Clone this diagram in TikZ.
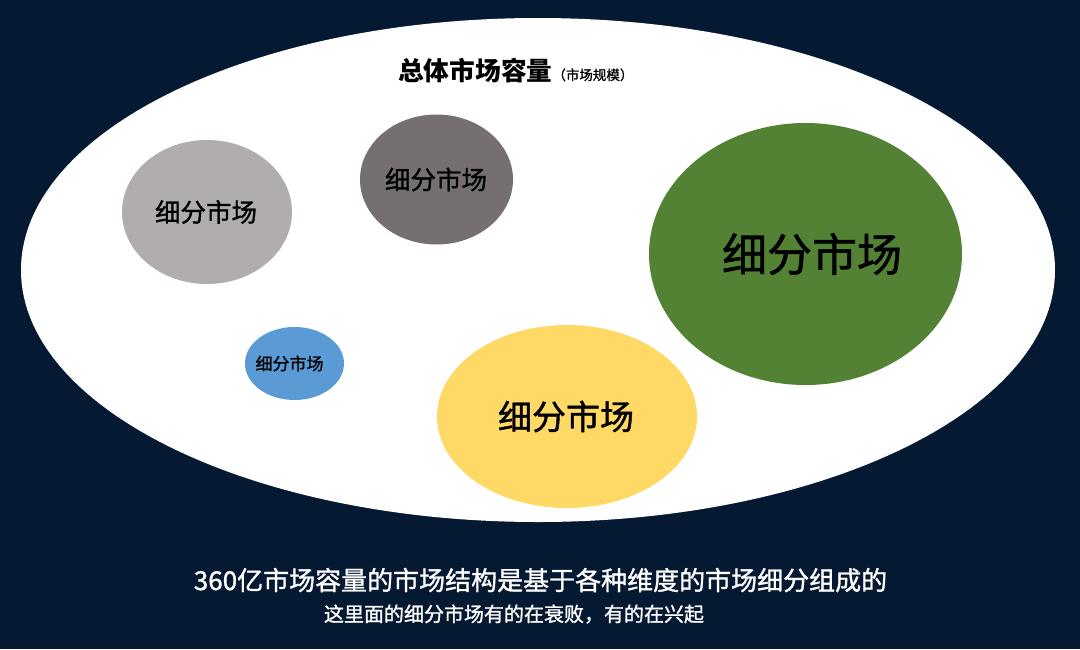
\documentclass[tikz,border=0pt]{standalone}
\usepackage{fontspec}
\setmainfont{Noto Sans CJK SC}
\newfontfamily\medfont[FakeBold=1.2]{Noto Sans CJK SC}
\usetikzlibrary{shapes.geometric}
\definecolor{navy}{HTML}{061933}
\definecolor{lgray}{HTML}{B0ADAC}
\definecolor{dgray}{HTML}{75706F}
\definecolor{mgreen}{HTML}{548235}
\definecolor{mblue}{HTML}{5B9BD5}
\definecolor{myellow}{HTML}{FFD966}
\tikzset{
  segment/.style={ellipse, inner sep=0pt, text=black},
  caption/.style={text=white, inner sep=0pt}
}
\newcommand\fsz[1]{\fontsize{#1}{#1}\selectfont}

\begin{document}
\begin{tikzpicture}[x=1pt, y=-1pt]
\fill[navy] (0,0) rectangle (1080,649);
\useasboundingbox (0,0) rectangle (1080,649);
\node[ellipse, fill=white, inner sep=0pt, minimum width=1034pt, minimum height=504pt] (total) at (538,270) {};
\node[anchor=base west, inner sep=0pt] (title) at (398,80)
  {{\bfseries\fsz{25.7}总体市场容量}{\medfont\fsz{13.5}（市场规模）}};
% segments: name/x/y/width/height/colour/size/text x
\foreach \n/\cx/\cy/\w/\h/\c/\s/\tx in {
  lg/207/212/170/144/lgray/25.5/206,
  dg/436.5/179.5/153/130/dgray/25.5/436,
  gr/805.5/254/313/262/mgreen/45/812,
  bl/294.5/363.5/99/73/mblue/17/289.5,
  ye/567/416.5/260/183/myellow/34/566}
{
  \node[segment, fill=\c, minimum width=\w pt, minimum height=\h pt] (\n) at (\cx,\cy) {};
  \node[inner sep=0pt] (\n-t) at (\tx,\cy) {\medfont\fsz{\s}细分市场};
}
\node[caption, anchor=base] (line1) at (540.5,590)
  {\medfont\fsz{26}360亿市场容量的市场结构是基于各种维度的市场细分组成的};
\node[caption, anchor=base] (line2) at (514,621.5)
  {\medfont\fsz{20}这里面的细分市场有的在衰败，有的在兴起};
\end{tikzpicture}
\end{document}
